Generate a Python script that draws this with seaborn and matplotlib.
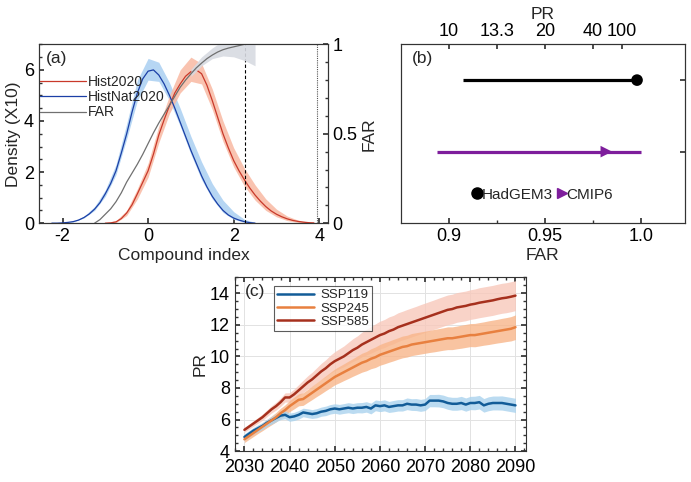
import numpy as np
import pandas as pd
import matplotlib
matplotlib.use("Agg")
import matplotlib.pyplot as plt
from matplotlib.ticker import MultipleLocator, FixedLocator
from matplotlib.lines import Line2D
import seaborn as sns

# ---------------- data: panel (a) ----------------
nat_x = [-2.25, -2.125, -2.0, -1.875, -1.75, -1.625, -1.5, -1.375, -1.25, -1.125, -1.0,
         -0.875, -0.75, -0.625, -0.5, -0.375, -0.25, -0.125, 0.0, 0.125, 0.25, 0.375,
         0.5, 0.625, 0.75, 0.875, 1.0, 1.125, 1.25, 1.375, 1.5, 1.625, 1.75, 1.875,
         2.0, 2.125, 2.25, 2.375, 2.5]
histnat = [0.0, 0.0, 0.01, 0.03, 0.06, 0.12, 0.22, 0.36, 0.55, 0.8, 1.15,
           1.55, 2.05, 2.75, 3.5, 4.35, 5.1, 5.65, 5.95, 6.0, 5.8, 5.45,
           5.0, 4.5, 3.95, 3.4, 2.85, 2.35, 1.85, 1.42, 1.05, 0.75, 0.5, 0.32,
           0.2, 0.12, 0.06, 0.02, 0.0]
hist_x = [-1.0, -0.875, -0.75, -0.625, -0.5, -0.375, -0.25, -0.125, 0.0, 0.125, 0.25,
          0.375, 0.5, 0.625, 0.75, 0.875, 1.0, 1.125, 1.25, 1.375, 1.5, 1.625, 1.75,
          1.875, 2.0, 2.125, 2.25, 2.375, 2.5, 2.625, 2.75, 2.875, 3.0, 3.125, 3.25,
          3.375, 3.5, 3.625, 3.75, 3.875]
hist2020 = [0.0, 0.01, 0.05, 0.18, 0.4, 0.72, 1.15, 1.6, 2.05, 2.7, 3.45,
            4.05, 4.6, 5.1, 5.45, 5.75, 5.93, 6.0, 5.85, 5.4, 4.8, 4.15, 3.5,
            2.95, 2.45, 2.05, 1.7, 1.38, 1.1, 0.86, 0.65, 0.48, 0.35, 0.25, 0.17,
            0.11, 0.07, 0.04, 0.02, 0.01]
band_x = [-2.25, -2.0, -1.75, -1.5, -1.25, -1.0, -0.75, -0.5, -0.25, 0.0, 0.25, 0.5, 0.75,
          1.0, 1.25, 1.5, 1.75, 2.0, 2.25, 2.5, 2.75, 3.0, 3.25, 3.5, 3.75]
histnat_lo = [0.0, 0.0, 0.05, 0.2, 0.5, 1.05, 1.9, 3.3, 4.8, 5.6, 5.55, 4.8, 3.8,
              2.7, 1.7, 0.95, 0.42, 0.15, 0.03, 0.0, np.nan, np.nan, np.nan, np.nan, np.nan]
histnat_hi = [0.0, 0.02, 0.08, 0.27, 0.65, 1.3, 2.3, 3.9, 5.6, 6.45, 6.3, 5.5, 4.5,
              3.4, 2.4, 1.55, 0.9, 0.45, 0.15, 0.03, np.nan, np.nan, np.nan, np.nan, np.nan]
hist2020_lo = [np.nan, np.nan, np.nan, np.nan, np.nan, 0.0, 0.02, 0.3, 0.95, 1.8, 3.15, 4.3, 5.1,
               5.55, 5.45, 4.45, 3.2, 2.2, 1.45, 0.9, 0.5, 0.25, 0.1, 0.03, 0.0]
hist2020_hi = [np.nan, np.nan, np.nan, np.nan, np.nan, 0.02, 0.1, 0.5, 1.35, 2.35, 3.8, 5.0, 6.0,
               6.5, 6.25, 5.25, 4.0, 2.95, 2.15, 1.5, 0.95, 0.55, 0.28, 0.12, 0.04]
far_x = [-1.25, -1.125, -1.0, -0.875, -0.75, -0.625, -0.5, -0.375, -0.25, -0.125, 0.0, 0.125,
         0.25, 0.375, 0.5, 0.625, 0.75, 0.875, 1.0, 1.125, 1.25, 1.375, 1.5, 1.625, 1.75,
         1.875, 2.0, 2.125, 2.25]
far_y = [0.0, 0.02, 0.05, 0.08, 0.12, 0.17, 0.23, 0.28, 0.33, 0.385, 0.445, 0.505,
         0.56, 0.61, 0.66, 0.71, 0.76, 0.8, 0.835, 0.868, 0.895, 0.92, 0.94, 0.957, 0.97,
         0.979, 0.986, 0.993, 1.0]
far_band_x = [1.0, 1.25, 1.5, 1.75, 2.0, 2.25, 2.5]
far_band_lo = [0.82, 0.88, 0.92, 0.935, 0.93, 0.91, 0.88]
far_band_hi = [0.86, 0.93, 0.98, 1.02, 1.05, 1.05, 1.05]
thresh_dashed = 2.27
thresh_dotted = 3.95

# ---------------- data: panel (b) ----------------
models = ["HadGEM3", "CMIP6"]
far_best = [0.998, 0.982]
far_low = [0.9075, 0.8936]
far_high = [0.998, 1.0]
model_ypos = [0.8, 0.4]
pr_ticks = [10, 13.3, 20, 40, 100]
pr_labels = ["10", "13.3", "20", "40", "100"]

# ---------------- data: panel (c) ----------------
years = list(range(2030, 2091))
ssp119 = [4.9, 5.1, 5.3, 5.45, 5.6, 5.8, 5.95, 6.1, 6.25, 6.3,
          6.15, 6.2, 6.3, 6.45, 6.4, 6.35, 6.4, 6.5, 6.55, 6.65,
          6.7, 6.65, 6.7, 6.75, 6.7, 6.75, 6.75, 6.8, 6.7, 6.9,
          6.85, 6.9, 6.8, 6.85, 6.9, 6.9, 7.0, 6.95, 6.95, 6.9,
          6.95, 7.2, 7.2, 7.2, 7.15, 7.05, 7.0, 7.0, 7.05, 6.95,
          7.05, 7.05, 7.1, 6.9, 7.0, 7.05, 7.05, 7.05, 7.0, 6.95, 6.9]
ssp245 = [4.75, 4.95, 5.15, 5.35, 5.55, 5.75, 5.95, 6.15, 6.4, 6.6,
          6.85, 7.05, 7.25, 7.3, 7.5, 7.7, 7.9, 8.1, 8.3, 8.5,
          8.7, 8.85, 9.0, 9.15, 9.3, 9.45, 9.6, 9.7, 9.85, 9.95,
          10.1, 10.2, 10.3, 10.4, 10.5, 10.6, 10.65, 10.75, 10.8, 10.85,
          10.9, 10.95, 11.0, 11.05, 11.1, 11.15, 11.15, 11.2, 11.25, 11.3,
          11.35, 11.35, 11.4, 11.45, 11.5, 11.55, 11.6, 11.65, 11.7, 11.75, 11.85]
ssp585 = [5.35, 5.55, 5.75, 5.95, 6.15, 6.4, 6.65, 6.85, 7.1, 7.4,
          7.4, 7.6, 7.85, 8.1, 8.35, 8.55, 8.8, 9.05, 9.25, 9.5,
          9.7, 9.85, 10.0, 10.2, 10.4, 10.55, 10.75, 10.9, 11.05, 11.2,
          11.35, 11.45, 11.6, 11.7, 11.85, 11.95, 12.05, 12.15, 12.25, 12.35,
          12.45, 12.55, 12.65, 12.75, 12.85, 12.95, 13.0, 13.1, 13.15, 13.2,
          13.28, 13.33, 13.4, 13.45, 13.5, 13.55, 13.62, 13.68, 13.72, 13.78, 13.85]
ssp119_hw = [0.2, 0.2, 0.2, 0.22, 0.22, 0.22, 0.24, 0.24, 0.25, 0.25,
             0.26, 0.26, 0.27, 0.27, 0.28, 0.28, 0.29, 0.29, 0.3, 0.3,
             0.3, 0.31, 0.31, 0.32, 0.32, 0.32, 0.33, 0.33, 0.34, 0.34,
             0.35, 0.35, 0.35, 0.36, 0.36, 0.36, 0.37, 0.37, 0.38, 0.38,
             0.38, 0.39, 0.39, 0.4, 0.4, 0.4, 0.41, 0.41, 0.42, 0.42,
             0.42, 0.43, 0.43, 0.43, 0.44, 0.44, 0.44, 0.45, 0.45, 0.45, 0.45]
ssp245_hw = [0.2, 0.21, 0.22, 0.23, 0.25, 0.26, 0.28, 0.3, 0.32, 0.33,
             0.35, 0.37, 0.38, 0.4, 0.41, 0.43, 0.44, 0.46, 0.47, 0.49,
             0.5, 0.52, 0.53, 0.55, 0.56, 0.58, 0.6, 0.61, 0.63, 0.65,
             0.66, 0.67, 0.67, 0.68, 0.68, 0.69, 0.69, 0.7, 0.7, 0.7,
             0.7, 0.7, 0.71, 0.71, 0.71, 0.72, 0.72, 0.72, 0.73, 0.73,
             0.73, 0.74, 0.74, 0.74, 0.75, 0.75, 0.75, 0.76, 0.76, 0.77, 0.78]
ssp585_hw = [0.15, 0.16, 0.17, 0.18, 0.2, 0.21, 0.23, 0.25, 0.27, 0.29,
             0.3, 0.33, 0.36, 0.39, 0.42, 0.45, 0.48, 0.51, 0.54, 0.57,
             0.6, 0.63, 0.66, 0.69, 0.72, 0.75, 0.78, 0.81, 0.84, 0.86,
             0.88, 0.89, 0.9, 0.9, 0.91, 0.91, 0.92, 0.92, 0.92, 0.93,
             0.93, 0.93, 0.93, 0.94, 0.94, 0.94, 0.94, 0.94, 0.94, 0.94,
             0.94, 0.94, 0.95, 0.95, 0.95, 0.95, 0.95, 0.95, 0.95, 0.95, 0.95]

# ---------------- style ----------------
sns.set_theme(style="ticks")
plt.rcParams["font.family"] = ["Liberation Sans", "DejaVu Sans"]
plt.rcParams.update({
    "xtick.direction": "in", "ytick.direction": "in",
    "axes.linewidth": 0.8, "axes.edgecolor": "#333333",
    "xtick.major.size": 3.5, "ytick.major.size": 3.5,
    "xtick.minor.size": 2, "ytick.minor.size": 2,
    "xtick.color": "#333333", "ytick.color": "#333333",
    "xtick.labelcolor": "black", "ytick.labelcolor": "black",
    "axes.unicode_minus": False,
    "font.size": 12.5,
})
FS = 12.5
TS = 13

fig = plt.figure(figsize=(6.91, 4.82), dpi=100)
axa = fig.add_axes([0.0564, 0.537, 0.418, 0.371])
axb = fig.add_axes([0.580, 0.537, 0.411, 0.371])
axc = fig.add_axes([0.340, 0.064, 0.421, 0.362])

# ---------------- panel (a) ----------------
dfn = pd.DataFrame({"x": nat_x, "y": histnat})
dfh = pd.DataFrame({"x": hist_x, "y": hist2020})
c_red, c_redband = "#C9392A", "#F9B9A2"
c_blue, c_blueband = "#1B3FA6", "#A9CFF2"
c_gray, c_grayband = "#707070", "#D8DBE2"

axa.fill_between(band_x, histnat_lo, histnat_hi, color=c_blueband, lw=0, alpha=0.85)
axa.fill_between(band_x, hist2020_lo, hist2020_hi, color=c_redband, lw=0, alpha=0.85)
sns.lineplot(data=dfh, x="x", y="y", ax=axa, color=c_red, lw=0.9, label="Hist2020")
sns.lineplot(data=dfn, x="x", y="y", ax=axa, color=c_blue, lw=0.9, label="HistNat2020")
axa.plot([], [], color=c_gray, lw=0.9, label="FAR")
axa.axvline(thresh_dashed, color="black", lw=0.8, ls=(0, (3, 2)))
axa.axvline(thresh_dotted, color="#555555", lw=0.8, ls=(0, (1, 1)))
axa.set_xlim(-2.55, 4.2)
axa.set_ylim(0, 7)
axa.set_xticks([-2, 0, 2, 4])
axa.set_yticks([0, 2, 4, 6])
axa.yaxis.set_minor_locator(MultipleLocator(0.5))
axa.tick_params(labelsize=TS, top=False, right=False, which="both", direction="in")
axa.set_xlabel("Compound index", fontsize=FS, labelpad=2)
axa.set_ylabel("Density (X10)", fontsize=FS, labelpad=2)
axa.text(0.025, 0.965, "(a)", transform=axa.transAxes, fontsize=FS, va="top", ha="left")
axa.legend(loc="upper left", bbox_to_anchor=(-0.03, 0.885), frameon=False, fontsize=10,
           handlelength=3.3, handletextpad=0.15, labelspacing=0.1, borderpad=0.2)

axa2 = axa.twinx()
dff = pd.DataFrame({"x": far_x, "far": far_y})
axa2.fill_between(far_band_x, far_band_lo, far_band_hi, color=c_grayband, lw=0, alpha=0.9)
sns.lineplot(data=dff, x="x", y="far", ax=axa2, color=c_gray, lw=0.9)
axa2.set_ylim(0, 1)
axa2.set_yticks([0, 0.5, 1])
axa2.set_yticklabels(["0", "0.5", "1"])
axa2.yaxis.set_minor_locator(MultipleLocator(0.1))
axa2.tick_params(labelsize=TS, which="both", direction="in")
axa2.set_ylabel("FAR", fontsize=FS, labelpad=3)
axa2.set_xlabel("")

# ---------------- panel (b) ----------------
c_purple = "#7E1E9C"
colors_b = ["black", c_purple]
markers_b = ["o", ">"]
for i in range(len(models)):
    axb.plot([far_low[i], far_high[i]], [model_ypos[i], model_ypos[i]], color=colors_b[i], lw=2.3,
             solid_capstyle="butt")
dfb = pd.DataFrame({"model": models, "far": far_best, "y": model_ypos})
sns.scatterplot(data=dfb, x="far", y="y", hue="model", style="model",
                palette=dict(zip(models, colors_b)), markers=dict(zip(models, markers_b)),
                s=70, edgecolor="none", ax=axb, legend=False, zorder=5)
axb.set_xlim(0.8748, 1.0229)
axb.set_ylim(0, 1)
axb.set_xticks([0.9, 0.95, 1.0])
axb.set_xticklabels(["0.9", "0.95", "1.0"])
axb.xaxis.set_minor_locator(FixedLocator([0.925, 0.975]))
axb.set_yticks([0.4, 0.8])
axb.set_yticklabels([])
axb.tick_params(left=False, right=True, which="both", labelsize=TS, direction="in")
axb.set_xlabel("FAR", fontsize=FS, labelpad=2)
axb.set_ylabel("")
axb.text(0.04, 0.965, "(b)", transform=axb.transAxes, fontsize=FS, va="top", ha="left")
handles_b = [Line2D([], [], ls="none", marker=m, color=c, markersize=8 if m == "o" else 7)
             for m, c in zip(markers_b, colors_b)]
axb.legend(handles_b, models, loc="center", bbox_to_anchor=(0.5, 0.16), frameon=False,
           ncol=2, fontsize=11, handlelength=0.6, handletextpad=0.0, columnspacing=0.25,
           borderpad=0.1)
axb_top = axb.twiny()
axb_top.set_xlim(axb.get_xlim())
axb_top.set_xticks([1 - 1 / p for p in pr_ticks])
axb_top.set_xticklabels(pr_labels)
axb_top.tick_params(labelsize=TS, direction="in", pad=3)
axb_top.set_xlabel("PR", fontsize=FS, labelpad=3)

# ---------------- panel (c) ----------------
dfc = pd.DataFrame({"year": years, "SSP119": ssp119, "SSP245": ssp245, "SSP585": ssp585,
                    "hw119": ssp119_hw, "hw245": ssp245_hw, "hw585": ssp585_hw})
c119, c119b = "#125C98", "#AAD3EE"
c245, c245b = "#E8803F", "#F8B68A"
c585, c585b = "#A6301D", "#F8C8BB"
axc.grid(True, color="#E2E2E2", lw=0.7)
axc.fill_between(dfc["year"], dfc["SSP585"] - dfc["hw585"], dfc["SSP585"] + dfc["hw585"],
                 color=c585b, lw=0, alpha=0.8)
axc.fill_between(dfc["year"], dfc["SSP245"] - dfc["hw245"], dfc["SSP245"] + dfc["hw245"],
                 color=c245b, lw=0, alpha=0.8)
axc.fill_between(dfc["year"], dfc["SSP119"] - dfc["hw119"], dfc["SSP119"] + dfc["hw119"],
                 color=c119b, lw=0, alpha=0.8)
sns.lineplot(data=dfc, x="year", y="SSP119", ax=axc, color=c119, lw=1.8, label="SSP119")
sns.lineplot(data=dfc, x="year", y="SSP245", ax=axc, color=c245, lw=1.8, label="SSP245")
sns.lineplot(data=dfc, x="year", y="SSP585", ax=axc, color=c585, lw=1.8, label="SSP585")
axc.set_xlim(2027.9, 2092.3)
axc.set_ylim(4, 15.05)
axc.set_xticks(list(range(2030, 2091, 10)))
axc.set_yticks([4, 6, 8, 10, 12, 14])
axc.xaxis.set_minor_locator(MultipleLocator(2))
axc.yaxis.set_minor_locator(MultipleLocator(0.5))
axc.tick_params(labelsize=TS, which="both", top=True, right=True, direction="in")
axc.tick_params(axis="x", pad=6)
axc.set_xlabel("")
axc.set_ylabel("PR", fontsize=FS, labelpad=2)
axc.text(0.035, 0.96, "(c)", transform=axc.transAxes, fontsize=FS, va="top", ha="left")
leg = axc.legend(loc="upper left", bbox_to_anchor=(0.11, 0.985), frameon=True, fontsize=9.5,
                 handlelength=2.8, handletextpad=0.5, labelspacing=0.08, borderpad=0.25,
                 fancybox=False)
leg.get_frame().set_edgecolor("#333333")
leg.get_frame().set_linewidth(0.8)

for ax in (axa, axa2, axb, axb_top, axc):
    for s in ax.spines.values():
        s.set_visible(True)
        s.set_color("#333333")
        s.set_linewidth(0.8)

fig.savefig("out.png", dpi=100)
